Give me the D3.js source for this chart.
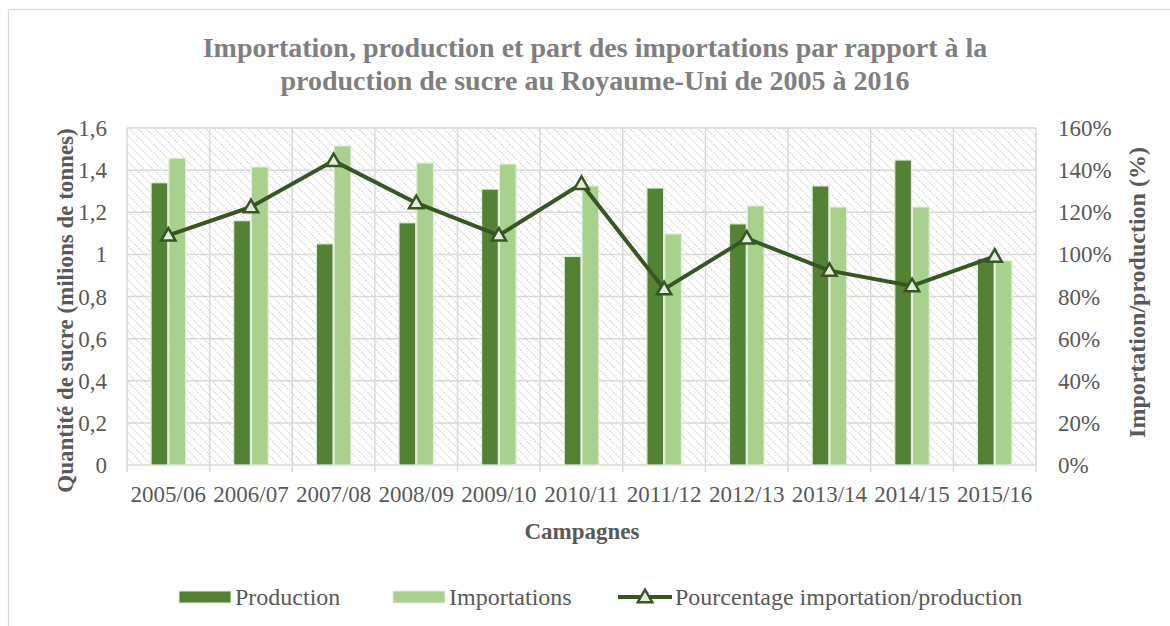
<!DOCTYPE html>
<html>
<head>
<meta charset="utf-8">
<script src="https://cdn.jsdelivr.net/npm/d3@7"></script>
<style>
  body { margin: 0; background: #fff; }
  svg { display: block; font-family: "Liberation Serif", "Times New Roman", serif; }
</style>
</head>
<body>
<div id="chart"></div>
<script>
// Data
const campagnes = ["2005/06", "2006/07", "2007/08", "2008/09", "2009/10", "2010/11",
                   "2011/12", "2012/13", "2013/14", "2014/15", "2015/16"];
const production   = [1.34, 1.16, 1.05, 1.15, 1.31, 0.99, 1.315, 1.145, 1.325, 1.448, 0.98];
const importations = [1.457, 1.415, 1.515, 1.434, 1.429, 1.325, 1.097, 1.23, 1.225, 1.225, 0.97];
const pourcentage  = [109, 122.5, 144.4, 124.4, 109, 133.5, 83.5, 107.6, 92.3, 85, 99];
const leftTicks  = [0, 0.2, 0.4, 0.6, 0.8, 1, 1.2, 1.4, 1.6];
const rightTicks = [0, 20, 40, 60, 80, 100, 120, 140, 160];

const width = 1170, height = 626;
const margin = { top: 128, right: 134, bottom: 161, left: 127 };
const textColor = "#595959";
const gridColor = "#d9d9d9";

const svg = d3.select("#chart").append("svg")
    .attr("width", width)
    .attr("height", height);

// hatch pattern of the plot area (downward diagonal)
const defs = svg.append("defs");
const pat = defs.append("pattern")
    .attr("id", "hatch")
    .attr("patternUnits", "userSpaceOnUse")
    .attr("width", 6)
    .attr("height", 6)
    .attr("patternTransform", "rotate(-45)");
pat.append("line")
    .attr("x1", 0).attr("y1", 0).attr("x2", 0).attr("y2", 6)
    .attr("stroke", "#cfcfcf")
    .attr("stroke-width", 1.8)
    .attr("stroke-dasharray", "2,1");

// chart border
svg.append("rect")
    .attr("x", 8.5).attr("y", 9.5)
    .attr("width", width + 10).attr("height", height + 10)
    .attr("fill", "none")
    .attr("stroke", gridColor)
    .attr("stroke-width", 1.2);

const x0 = margin.left, x1 = width - margin.right;
const y0 = height - margin.bottom, y1 = margin.top;

const x = d3.scaleBand().domain(campagnes).range([x0, x1]).paddingInner(0).paddingOuter(0);
const xs = d3.scaleBand().domain(["production", "importations"])
    .range([0, x.bandwidth()]).paddingInner(0.06).paddingOuter(1.35);
const yL = d3.scaleLinear().domain([0, 1.6]).range([y0, y1]);
const yR = d3.scaleLinear().domain([0, 160]).range([y0, y1]);

// plot background
svg.append("rect")
    .attr("x", x0).attr("y", y1)
    .attr("width", x1 - x0).attr("height", y0 - y1)
    .attr("fill", "url(#hatch)");

// horizontal gridlines
svg.append("g")
    .selectAll("line")
    .data(leftTicks)
    .join("line")
    .attr("x1", x0).attr("x2", x1)
    .attr("y1", d => yL(d)).attr("y2", d => yL(d))
    .attr("stroke", gridColor)
    .attr("stroke-width", 1.5);

// vertical gridlines at category boundaries
const bounds = campagnes.map(c => x(c)).concat([x1]);
svg.append("g")
    .selectAll("line")
    .data(bounds)
    .join("line")
    .attr("x1", d => d).attr("x2", d => d)
    .attr("y1", y1).attr("y2", y0 + 7)
    .attr("stroke", gridColor)
    .attr("stroke-width", 1.5);

// bars
const series = [
    { key: "production", values: production, color: "#548235" },
    { key: "importations", values: importations, color: "#a9d18e" }
];
series.forEach(s => {
    svg.append("g")
        .selectAll("rect")
        .data(s.values)
        .join("rect")
        .attr("x", (d, i) => x(campagnes[i]) + xs(s.key))
        .attr("y", d => yL(d))
        .attr("width", xs.bandwidth())
        .attr("height", d => yL(0) - yL(d))
        .attr("fill", s.color)
        .attr("stroke", "#e2efda")
        .attr("stroke-width", 1.2);
});

// line
const lineColor = "#375623";
const cx = (d, i) => x(campagnes[i]) + x.bandwidth() / 2;
const line = d3.line()
    .x(cx)
    .y(d => yR(d));
svg.append("path")
    .datum(pourcentage)
    .attr("d", line)
    .attr("fill", "none")
    .attr("stroke", lineColor)
    .attr("stroke-width", 4)
    .attr("stroke-linejoin", "round");

const tri = d3.symbol().type(d3.symbolTriangle).size(90);
svg.append("g")
    .selectAll("path")
    .data(pourcentage)
    .join("path")
    .attr("d", tri)
    .attr("transform", (d, i) => `translate(${cx(d, i)},${yR(d) + 1})`)
    .attr("fill", "#e2efda")
    .attr("stroke", lineColor)
    .attr("stroke-width", 2.5);

// left axis labels
const fmtL = d => String(d).replace(".", ",");
svg.append("g")
    .selectAll("text")
    .data(leftTicks)
    .join("text")
    .attr("x", 107)
    .attr("y", d => yL(d))
    .attr("dy", "0.35em")
    .attr("text-anchor", "end")
    .attr("font-size", 23)
    .attr("fill", textColor)
    .text(fmtL);

// right axis labels
svg.append("g")
    .selectAll("text")
    .data(rightTicks)
    .join("text")
    .attr("x", 1058)
    .attr("y", d => yR(d))
    .attr("dy", "0.35em")
    .attr("text-anchor", "start")
    .attr("font-size", 23)
    .attr("fill", textColor)
    .text(d => d + "%");

// x labels
svg.append("g")
    .selectAll("text")
    .data(campagnes)
    .join("text")
    .attr("x", d => x(d) + x.bandwidth() / 2)
    .attr("y", 502)
    .attr("text-anchor", "middle")
    .attr("font-size", 23)
    .attr("fill", textColor)
    .text(d => d);

// titles
const title = svg.append("text")
    .attr("text-anchor", "middle")
    .attr("font-size", 28)
    .attr("font-weight", "bold")
    .attr("fill", "#7f7f7f");
title.append("tspan").attr("x", 595).attr("y", 57)
    .text("Importation, production et part des importations par rapport à la");
title.append("tspan").attr("x", 595).attr("y", 90)
    .text("production de sucre au Royaume-Uni de 2005 à 2016");

svg.append("text")
    .attr("x", 582).attr("y", 539)
    .attr("text-anchor", "middle")
    .attr("font-size", 23)
    .attr("font-weight", "bold")
    .attr("fill", textColor)
    .text("Campagnes");

svg.append("text")
    .attr("transform", `translate(73,${(y0 + y1) / 2 + 14}) rotate(-90)`)
    .attr("text-anchor", "middle")
    .attr("font-size", 23)
    .attr("font-weight", "bold")
    .attr("fill", textColor)
    .text("Quantité de sucre (milions de tonnes)");

svg.append("text")
    .attr("transform", `translate(1145,${(y0 + y1) / 2 - 4}) rotate(-90)`)
    .attr("text-anchor", "middle")
    .attr("font-size", 24)
    .attr("font-weight", "bold")
    .attr("fill", textColor)
    .text("Importation/production (%)");

// legend
const legY = 597;
const leg = svg.append("g");
leg.append("rect").attr("x", 179).attr("y", legY - 6).attr("width", 52).attr("height", 12)
    .attr("fill", "#548235").attr("stroke", "#e2efda");
leg.append("text").attr("x", 235).attr("y", legY).attr("dy", "0.35em")
    .attr("font-size", 24).attr("fill", textColor).text("Production");
leg.append("rect").attr("x", 393).attr("y", legY - 6).attr("width", 52).attr("height", 12)
    .attr("fill", "#a9d18e").attr("stroke", "#e2efda");
leg.append("text").attr("x", 449).attr("y", legY).attr("dy", "0.35em")
    .attr("font-size", 24).attr("fill", textColor).text("Importations");
leg.append("line").attr("x1", 618).attr("x2", 672).attr("y1", legY).attr("y2", legY)
    .attr("stroke", lineColor).attr("stroke-width", 4);
leg.append("path").attr("d", tri).attr("transform", `translate(645,${legY + 1})`)
    .attr("fill", "#e2efda").attr("stroke", lineColor).attr("stroke-width", 2.5);
leg.append("text").attr("x", 675).attr("y", legY).attr("dy", "0.35em")
    .attr("font-size", 24).attr("fill", textColor).text("Pourcentage importation/production");
</script>
</body>
</html>
